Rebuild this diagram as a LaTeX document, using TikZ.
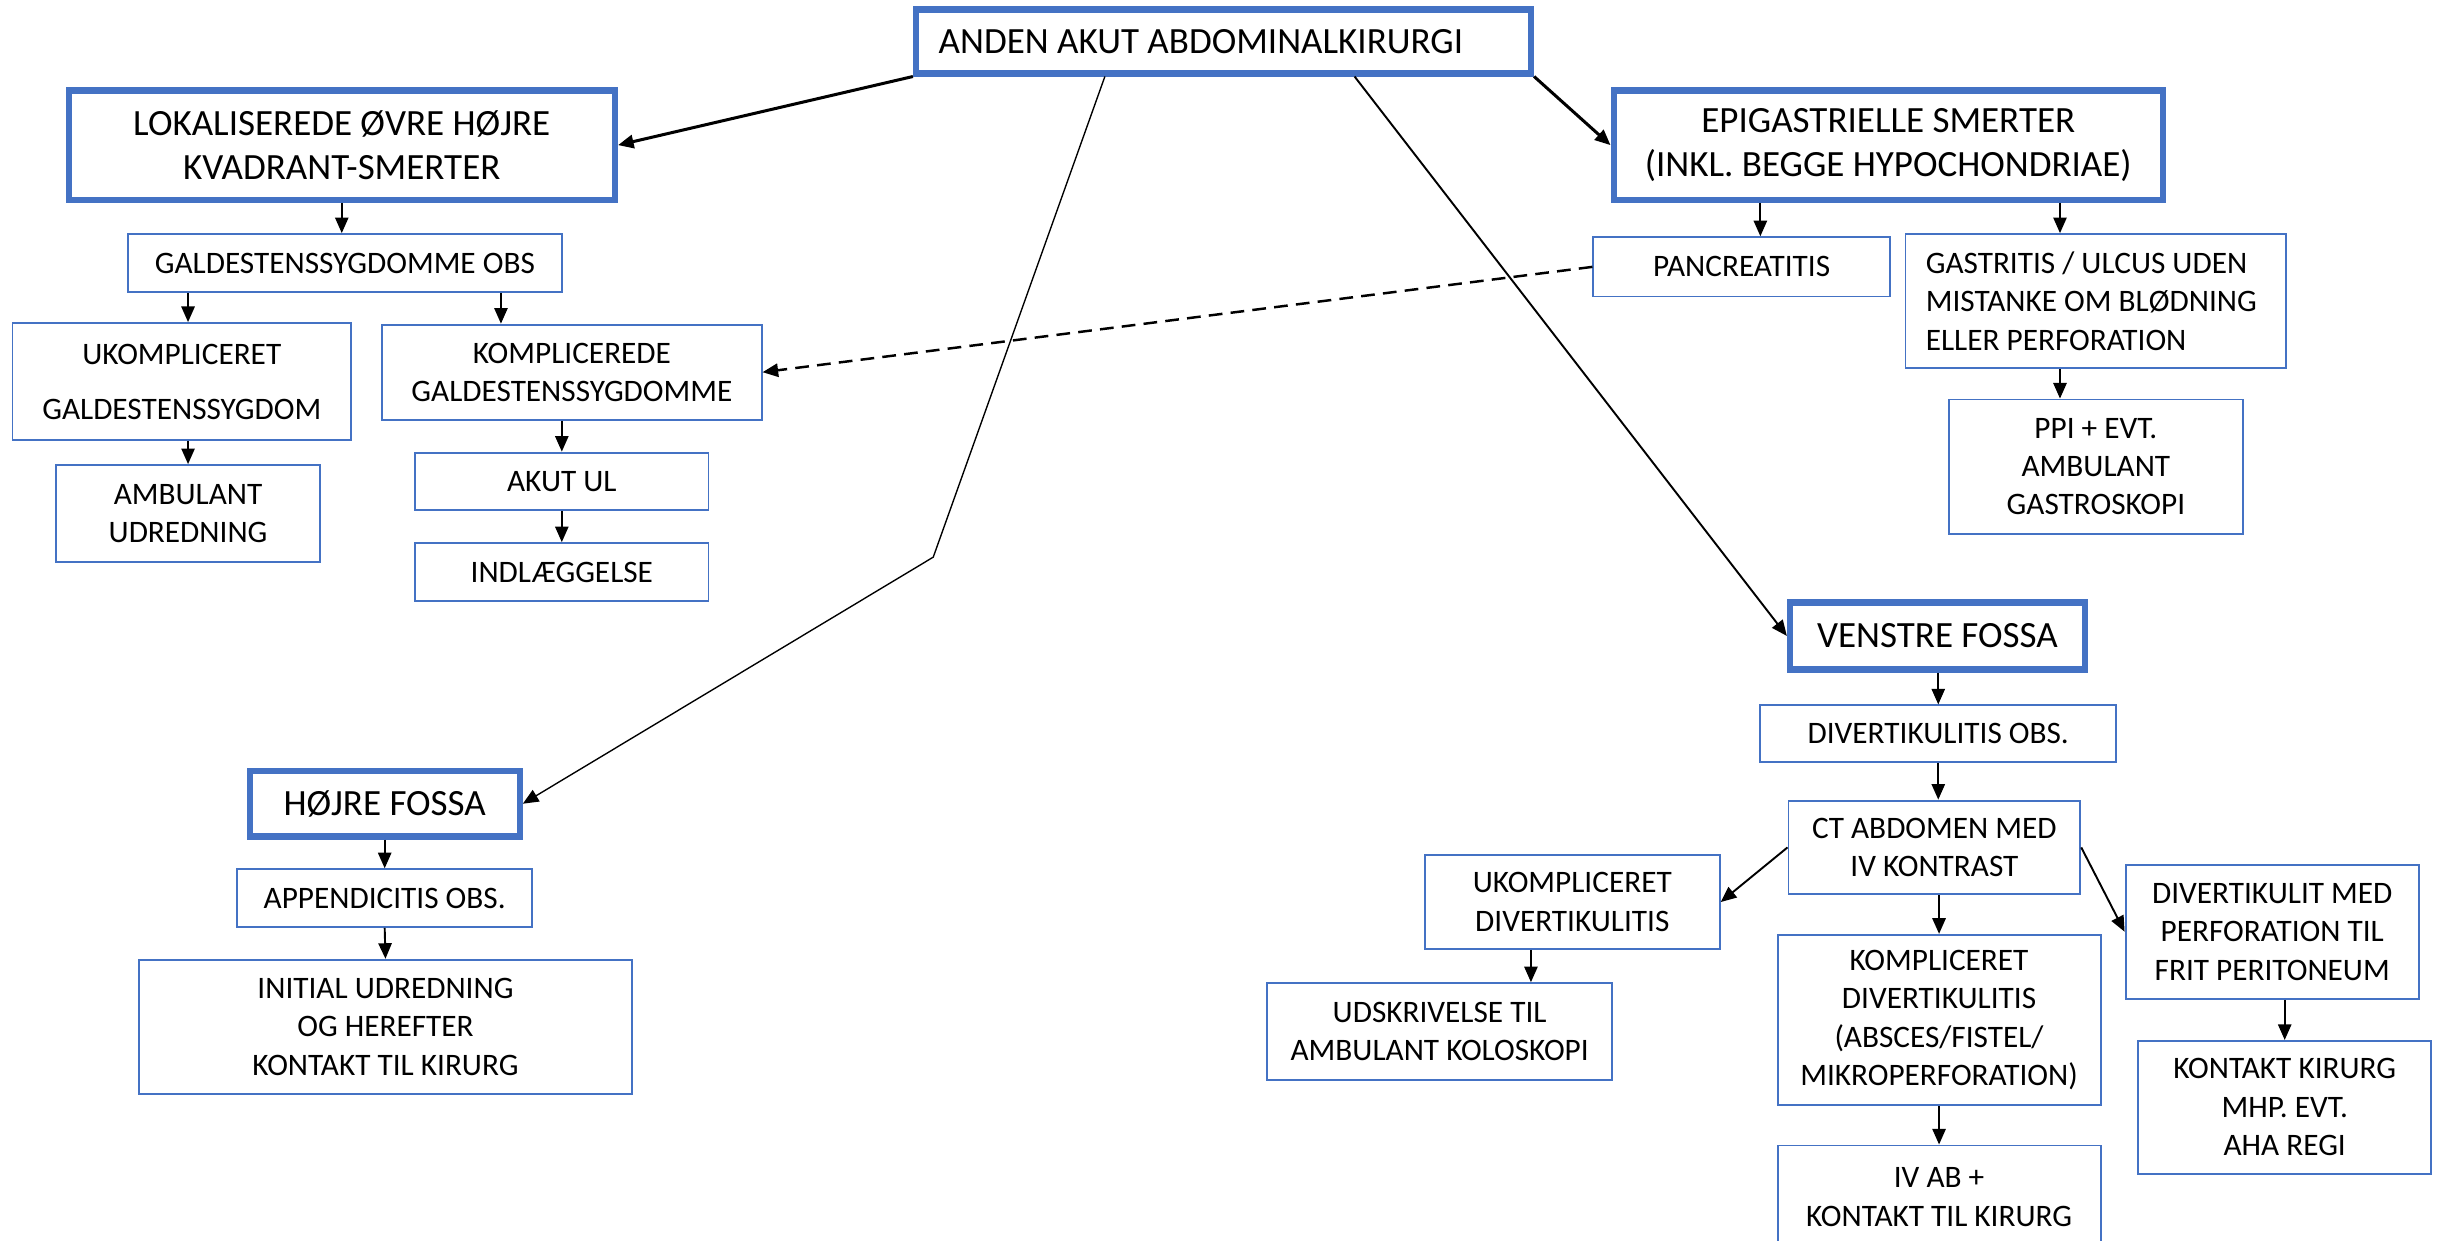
\documentclass[tikz,border=0pt]{standalone}
\usepackage{fontspec}
\setmainfont{Carlito}
\usetikzlibrary{arrows.meta}
\definecolor{boxblue}{HTML}{4472C4}

\begin{document}
\begin{tikzpicture}[
  box/.style={draw=boxblue, line width=0.7pt, align=center, inner xsep=2pt, inner ysep=1pt, font=\fontsize{11.4}{14}\selectfont},
  bigbox/.style={draw=boxblue, line width=2.3pt, align=center, inner xsep=2pt, inner ysep=1pt, font=\fontsize{13.5}{16}\selectfont},
  arr/.style={-{Triangle[length=0.2cm,width=0.17cm]}, line width=0.7pt},
]
\useasboundingbox (0,0) rectangle (31.36,-15.9);
\node[bigbox, minimum width=7.88cm, minimum height=0.82cm, text width=7.3cm, align=flush left] (top) at (15.68,-0.53) {ANDEN AKUT ABDOMINALKIRURGI};
\node[bigbox, minimum width=7cm, minimum height=1.4cm] (lokal) at (4.38,-1.86) {LOKALISEREDE ØVRE HØJRE\\KVADRANT-SMERTER};
\node[bigbox, minimum width=7.04cm, minimum height=1.4cm] (epi) at (24.2,-1.86) {EPIGASTRIELLE SMERTER\\(INKL. BEGGE HYPOCHONDRIAE)};
\node[box, minimum width=5.56cm, minimum height=0.74cm] (galdobs) at (4.42,-3.37) {GALDESTENSSYGDOMME OBS};
\node[box, minimum width=4.34cm, minimum height=1.5cm] (ukompgald) at (2.33,-4.89) {UKOMPLICERET\\[6pt]GALDESTENSSYGDOM};
\node[box, minimum width=4.86cm, minimum height=1.22cm] (kompgald) at (7.33,-4.77) {KOMPLICEREDE\\GALDESTENSSYGDOMME};
\node[box, minimum width=3.38cm, minimum height=1.24cm] (ambulant) at (2.41,-6.58) {AMBULANT\\UDREDNING};
\node[box, minimum width=3.76cm, minimum height=0.74cm] (akutul) at (7.2,-6.17) {AKUT UL};
\node[box, minimum width=3.76cm, minimum height=0.74cm] (indl) at (7.2,-7.33) {INDLÆGGELSE};
\node[box, minimum width=3.8cm, minimum height=0.76cm] (pancreatitis) at (22.32,-3.42) {PANCREATITIS};
\node[box, minimum width=4.88cm, minimum height=1.72cm, text width=4.36cm, align=flush left] (gastritis) at (26.86,-3.86) {GASTRITIS / ULCUS UDEN\\MISTANKE OM BLØDNING\\ELLER PERFORATION};
\node[box, minimum width=3.76cm, minimum height=1.72cm] (ppi) at (26.86,-5.98) {PPI + EVT.\\AMBULANT\\GASTROSKOPI};
\node[bigbox, minimum width=3.78cm, minimum height=0.86cm] (venstre) at (24.83,-8.15) {VENSTRE FOSSA};
\node[box, minimum width=4.56cm, minimum height=0.72cm] (divobs) at (24.84,-9.4) {DIVERTIKULITIS OBS.};
\node[box, minimum width=3.74cm, minimum height=1.2cm] (ct) at (24.79,-10.86) {CT ABDOMEN MED\\IV KONTRAST};
\node[box, minimum width=3.78cm, minimum height=1.2cm] (ukompdiv) at (20.15,-11.56) {UKOMPLICERET\\DIVERTIKULITIS};
\node[box, minimum width=4.14cm, minimum height=2.18cm] (kompdiv) at (24.85,-13.07) {KOMPLICERET\\DIVERTIKULITIS\\(ABSCES/FISTEL/\\MIKROPERFORATION)};
\node[box, minimum width=3.76cm, minimum height=1.72cm] (divmed) at (29.12,-11.94) {DIVERTIKULIT MED\\PERFORATION TIL\\FRIT PERITONEUM};
\node[box, minimum width=4.42cm, minimum height=1.24cm] (udskriv) at (18.45,-13.22) {UDSKRIVELSE TIL\\AMBULANT KOLOSKOPI};
\node[box, minimum width=4.14cm, minimum height=1.32cm] (ivab) at (24.85,-15.34) {IV AB +\\KONTAKT TIL KIRURG};
\node[box, minimum width=3.76cm, minimum height=1.7cm] (kontakt) at (29.28,-14.19) {KONTAKT KIRURG\\MHP. EVT.\\AHA REGI};
\node[bigbox, minimum width=3.46cm, minimum height=0.84cm] (hojre) at (4.93,-10.3) {HØJRE FOSSA};
\node[box, minimum width=3.78cm, minimum height=0.74cm] (app) at (4.93,-11.51) {APPENDICITIS OBS.};
\node[box, minimum width=6.32cm, minimum height=1.72cm] (initial) at (4.94,-13.16) {INITIAL UDREDNING\\OG HEREFTER\\KONTAKT TIL KIRURG};
\coordinate (knee) at (11.96,-7.14);
\draw[arr, line width=1.1pt] (top.south west) -- (lokal.east);
\draw[arr, line width=1.1pt] (top.south east) -- (epi.west);
\draw[arr, line width=0.5pt] ([xshift=2.46cm]top.south west) -- (knee) -- (hojre.east);
\draw[arr] ([xshift=5.66cm]top.south west) -- (venstre.west);
\draw[arr, line width=0.9pt, dash pattern=on 5pt off 3pt] (pancreatitis.west) -- (kompgald.east);
\draw[arr] (lokal.south) -- (lokal.south |- galdobs.north);
\draw[arr] (ambulant.north |- galdobs.south) -- (ambulant.north |- ukompgald.north);
\draw[arr] ([xshift=-0.91cm]kompgald.north |- galdobs.south) -- ([xshift=-0.91cm]kompgald.north);
\draw[arr] (ambulant.north |- ukompgald.south) -- (ambulant.north);
\draw[arr] (akutul.north |- kompgald.south) -- (akutul.north);
\draw[arr] (akutul.south) -- (indl.north);
\draw[arr] ([xshift=0.24cm]pancreatitis.north |- epi.south) -- ([xshift=0.24cm]pancreatitis.north);
\draw[arr] ([xshift=-0.46cm]gastritis.north |- epi.south) -- ([xshift=-0.46cm]gastritis.north);
\draw[arr] ([xshift=-0.46cm]gastritis.south) -- ([xshift=-0.46cm]ppi.north);
\draw[arr] (divobs.north |- venstre.south) -- (divobs.north);
\draw[arr] (divobs.south) -- (divobs.south |- ct.north);
\draw[arr] (kompdiv.north |- ct.south) -- (kompdiv.north);
\draw[arr] (ct.west) -- (ukompdiv.east);
\draw[arr] (ct.east) -- (divmed.west);
\draw[arr] ([xshift=-0.53cm]ukompdiv.south) -- ([xshift=-0.53cm]ukompdiv.south |- udskriv.north);
\draw[arr] (kompdiv.south) -- (ivab.north);
\draw[arr] (kontakt.north |- divmed.south) -- (kontakt.north);
\draw[arr] (hojre.south) -- (app.north);
\draw[arr] (app.south) -- (initial.north);
\end{tikzpicture}
\end{document}
